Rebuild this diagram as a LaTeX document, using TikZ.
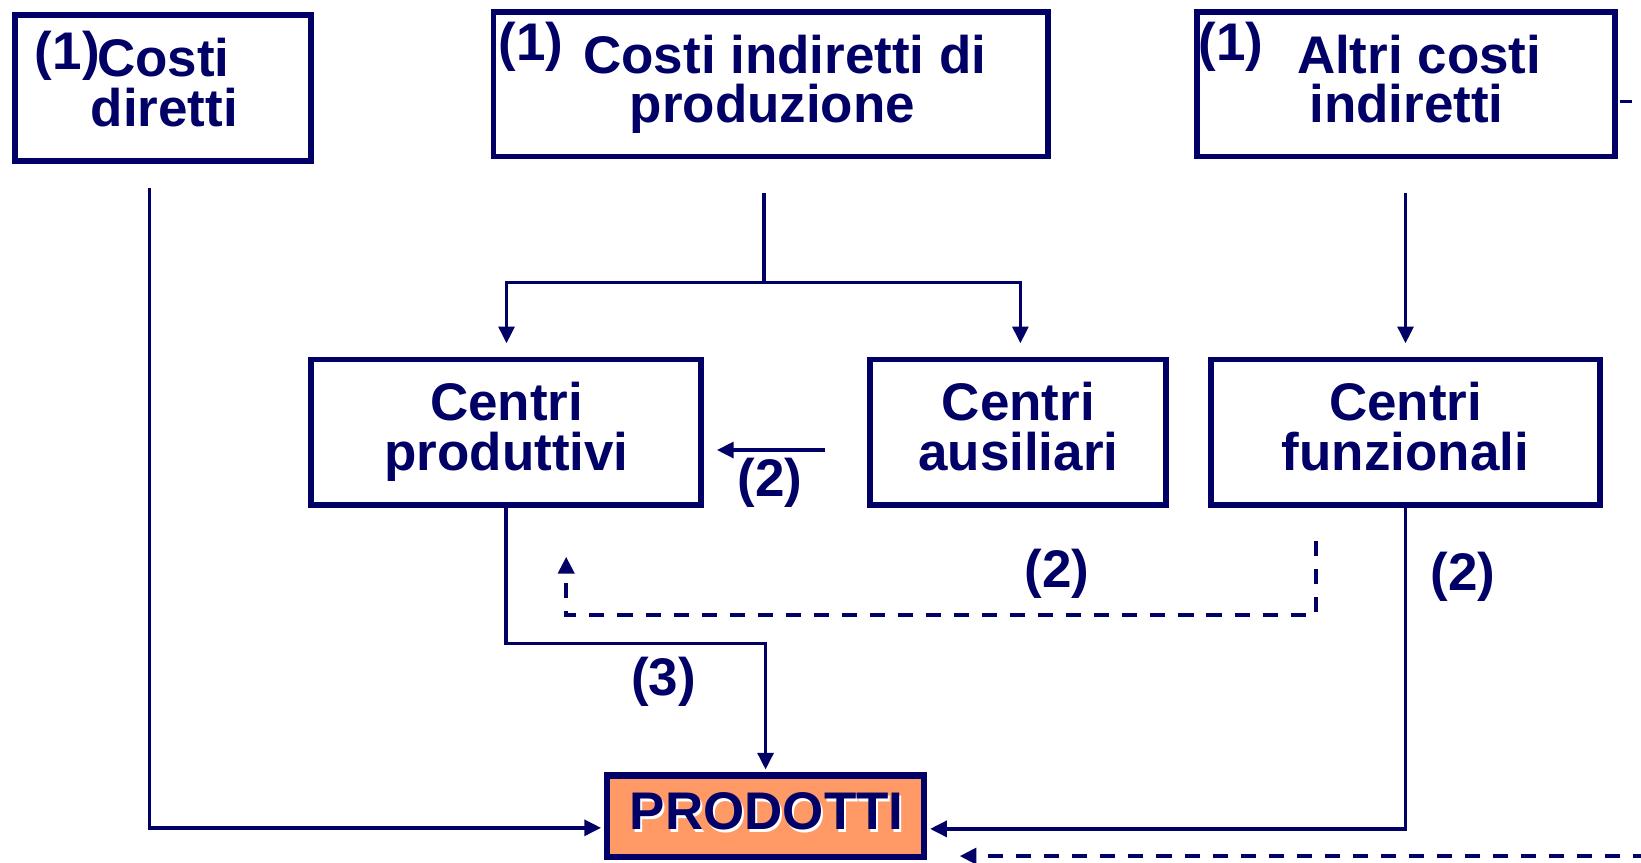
\documentclass[tikz,border=0pt]{standalone}
\usepackage{fontspec}
\setmainfont{Liberation Sans}
\usetikzlibrary{calc,arrows.meta}
\definecolor{navy}{RGB}{0,0,102}
\definecolor{orng}{RGB}{255,153,102}
\begin{document}
\begin{tikzpicture}[x=0.5pt,y=-0.5pt,
  box/.style={draw=navy,line width=2.8pt,inner sep=0pt,fill=white},
  pbox/.style={draw=navy,line width=2.9pt,inner sep=0pt,fill=orng},
  txt/.style={font=\fontsize{25.3}{26}\selectfont\bfseries,text=navy,inner sep=0pt,anchor=base},
  lbl/.style={font=\fontsize{25.3}{26}\selectfont\bfseries,text=navy,inner sep=0pt,anchor=center},
  conn/.style={draw=navy,line width=1.6pt},
  dsh/.style={draw=navy,line width=1.9pt,dash pattern=on 7.2pt off 6.2pt},
  arr/.style={-{Triangle[length=8pt,width=7.6pt]}}]
\fill[white] (0,0) rectangle (1568,824);
\useasboundingbox (0,0) rectangle (1568,824);
% boxes
\node[box,minimum width=141.5pt,minimum height=69.5pt] (A) at (156,84) {};
\node[box,minimum width=265pt,minimum height=69pt] (B) at (736.5,80.5) {};
\node[box,minimum width=200pt,minimum height=69pt] (C) at (1343.5,80.5) {};
\node[box,minimum width=186pt,minimum height=69.5pt] (D) at (483.5,413) {};
\node[box,minimum width=141.5pt,minimum height=69.5pt] (E) at (973,413) {};
\node[box,minimum width=185.5pt,minimum height=69.5pt] (F) at (1343,413) {};
\node[pbox,minimum width=151.5pt,minimum height=39pt] (P) at (731.5,780) {};
% texts
\node[txt,anchor=base west] (An) at (33,66) {(1)};
\node[txt] (A1) at (156,73) {Costi};
\node[txt] (A2) at (157,121) {diretti};
\node[txt,anchor=base west] (Bn) at (476,58) {(1)};
\node[txt] (B1) at (750,70) {Costi indiretti di};
\node[txt] (B2) at (738,117) {produzione};
\node[txt,anchor=base west] (Cn) at (1145,58) {(1)};
\node[txt] (C1) at (1356,70) {Altri costi};
\node[txt] (C2) at (1344,117) {indiretti};
\node[txt] (D1) at (484,402) {Centri};
\node[txt] (D2) at (484,450) {produttivi};
\node[txt] (E1) at (973,402) {Centri};
\node[txt] (E2) at (973,450) {ausiliari};
\node[txt] (F1) at (1343,402) {Centri};
\node[txt] (F2) at (1343,450) {funzionali};
\node[txt,text=white] (Psh) at (734.5,795.5) {PRODOTTI};
\node[txt] (P1) at (732.5,793) {PRODOTTI};
% labels
\node[lbl] (L1) at (736,461) {(2)};
\node[lbl] (L2) at (1010,548) {(2)};
\node[lbl] (L3) at (1398,551) {(2)};
\node[lbl] (L4) at (634,651) {(3)};
% coordinates
\coordinate (a1) at (143,180);
\coordinate (b1) at (730,184);
\coordinate (b2) at (730,270);
\coordinate (dT) at (484,328);
\coordinate (eT) at (975,328);
\coordinate (c1) at (1343,184);
\coordinate (fT) at (1343,328);
\coordinate (e1) at (788,430);
\coordinate (dR) at (685,430);
\coordinate (f1) at (1257,517);
\coordinate (dB) at (541,532);
\coordinate (r1) at (1575,818);
\coordinate (r2) at (917,818);
% connectors
\draw[conn,arr,shorten >=1.4pt] (a1) |- ($(P.west)+(0,11)$);
\draw[conn] (b1) -- (b2);
\draw[conn,arr] (b2) -| (dT);
\draw[conn,arr] (b2) -| (eT);
\draw[conn,arr] (c1) -- (fT);
\draw[conn,arr] (e1) -- (dR);
\draw[dsh,arr] (f1) -- ++(0,71) -| (dB);
\draw[conn,arr,shorten >=1.4pt] (D.south) -- ++(0,129.5) -| (P.north);
\draw[conn,arr,shorten >=1.4pt] (F.south) |- ($(P.east)+(0,12)$);
\draw[dsh,arr] (r1) -- (r2);
\draw[conn] ($(C.east)+(1.4,16.5)$) -- ++(12,0);
\end{tikzpicture}
\end{document}
